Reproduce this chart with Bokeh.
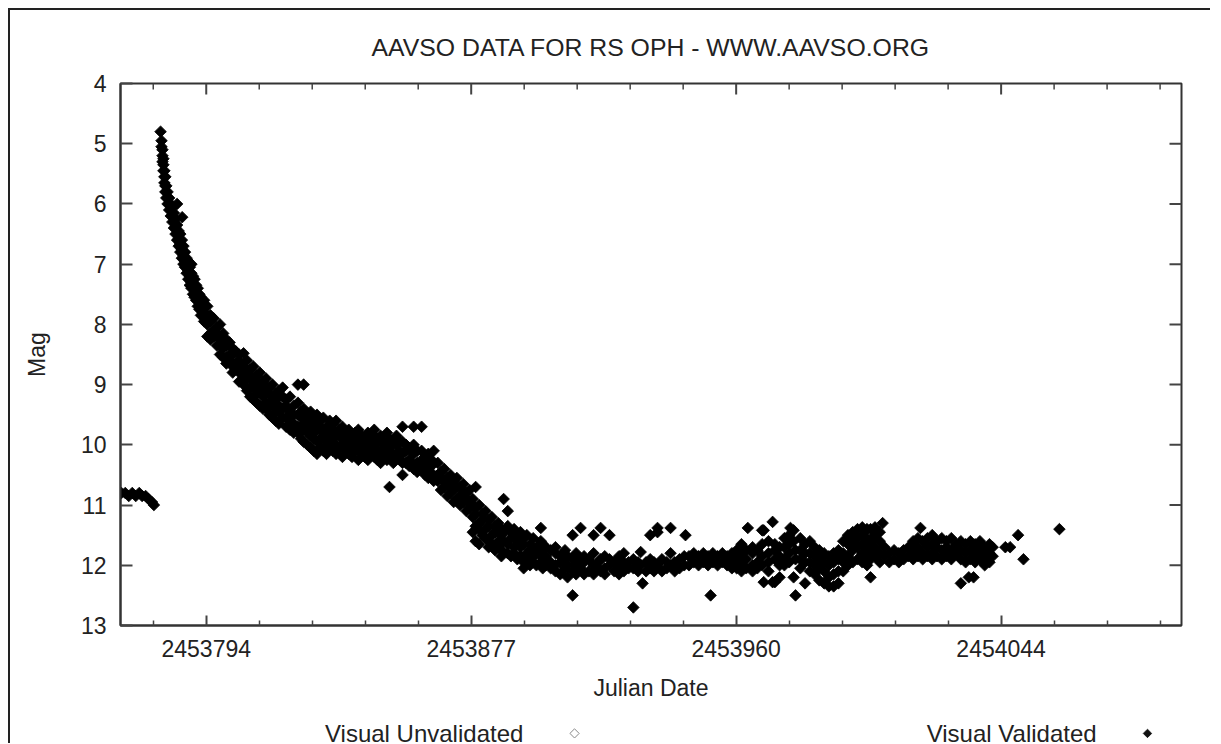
import math
from bokeh.plotting import figure
from bokeh.layouts import column
from bokeh.models import Range1d, FixedTicker, Label, ColumnDataSource
from bokeh.embed import file_html
from bokeh.resources import INLINE

# ---------------- data (JD = JD0 + day) ----------------
JD0 = 2453700.0

# pre-outburst quiescence: (day, [mags])
quiet_nights = [
    (67.0, [10.8]), (68.2, [10.8]), (69.3, [10.85]), (70.4, [10.8]),
    (71.5, [10.85]), (72.6, [10.8]), (73.5, [10.85]), (74.6, [10.85]),
    (75.5, [10.9]), (76.6, [10.95]), (77.2, [11.0]),
]

# fast early decline
early_decline_nights = [
    (79.3, [4.8]), (79.6, [4.95, 5.05]), (79.9, [5.1, 5.2, 5.3]),
    (80.2, [5.25, 5.35, 5.45]), (80.5, [5.45, 5.55, 5.65]), (80.8, [5.55, 5.7, 5.8]),
    (81.1, [5.7, 5.8, 5.9]), (81.5, [5.8, 5.9, 6.0]), (82.0, [5.9, 6.0, 6.1]),
    (82.5, [6.0, 6.1, 6.2]), (83.0, [6.05, 6.2, 6.3]), (83.5, [6.15, 6.3, 6.4]),
    (84.0, [6.25, 6.4, 6.5]), (84.5, [6.0, 6.35, 6.5, 6.6]), (85.0, [6.45, 6.6, 6.7]),
    (85.5, [6.5, 6.65, 6.8]), (86.0, [6.6, 6.75, 6.9]), (86.1, [6.22]),
    (86.5, [6.7, 6.85, 7.0]), (87.0, [6.8, 6.95, 7.05]), (87.5, [6.9, 7.05, 7.15]),
    (88.0, [6.95, 7.1, 7.25]), (88.5, [7.05, 7.2, 7.35]), (89.0, [7.0, 7.15, 7.3, 7.4]),
    (89.5, [7.2, 7.35, 7.5]), (90.0, [7.25, 7.4, 7.55]), (90.5, [7.35, 7.5, 7.6]),
    (91.0, [7.4, 7.55, 7.7]), (91.5, [7.5, 7.6, 7.75]), (92.0, [7.55, 7.7, 7.85]),
    (93.0, [7.6, 7.8, 7.95]), (94.0, [7.7, 7.9, 8.0, 8.2]), (95.0, [7.85, 7.95, 8.15, 8.25]),
    (96.0, [7.9, 8.1, 8.2]), (97.0, [8.05, 8.15, 8.35]), (98.0, [8.0, 8.25, 8.35, 8.5]),
    (99.0, [8.15, 8.3, 8.4, 8.55]), (100.0, [8.25, 8.35, 8.55, 8.65]), (101.0, [8.3, 8.5, 8.6]),
    (102.0, [8.4, 8.5, 8.7, 8.8]), (103.0, [8.45, 8.65, 8.75]), (104.0, [8.5, 8.6, 8.8, 8.95]),
    (105.4, [8.48, 8.7, 8.9, 9.0]), (106.5, [8.6, 8.8, 8.9, 9.1]), (107.5, [8.75, 8.85, 9.05, 9.2]),
    (108.5, [8.7, 8.95, 9.05, 9.25]), (109.5, [8.85, 8.95, 9.15, 9.3]), (110.5, [8.8, 9.0, 9.1, 9.35]),
    (111.5, [8.95, 9.1, 9.2, 9.4]), (112.5, [8.9, 9.05, 9.3, 9.4]), (113.5, [9.05, 9.15, 9.35, 9.5]),
    (114.5, [9.0, 9.25, 9.35, 9.55]), (115.5, [9.15, 9.25, 9.45, 9.6]), (116.5, [9.1, 9.35, 9.45, 9.65]),
    (117.7, [9.05, 9.2, 9.4, 9.55]), (118.8, [9.25, 9.35, 9.55, 9.7]), (120.0, [9.2, 9.45, 9.6, 9.75]),
    (121.2, [9.35, 9.5, 9.65, 9.8]),
]

# slow decline / shoulder near mag 10
shoulder_nights = [
    (122.5, [9.0, 9.3, 9.5, 9.7, 9.8]), (123.5, [9.45, 9.55, 9.75, 9.9]),
    (124.3, [9.0, 9.4, 9.65, 9.75, 9.95]), (125.5, [9.5, 9.6, 9.8, 10.0]),
    (126.5, [9.45, 9.7, 9.85, 10.05]), (127.5, [9.55, 9.65, 9.8, 9.9, 10.1]),
    (128.5, [9.5, 9.75, 9.95, 10.15]), (129.5, [9.6, 9.7, 9.9, 10.05]),
    (130.5, [9.55, 9.8, 9.9, 10.1]), (131.5, [9.7, 9.8, 10.0, 10.15]),
    (132.5, [9.6, 9.85, 9.95, 10.05]), (133.5, [9.65, 9.75, 9.9, 10.1]),
    (134.5, [9.6, 9.8, 10.0, 10.15]), (135.5, [9.75, 9.85, 10.05]),
    (136.5, [9.7, 9.9, 10.0, 10.2]), (137.5, [9.8, 9.95, 10.1]),
    (138.5, [9.75, 9.9, 10.05, 10.15]), (139.5, [9.85, 10.0, 10.2]),
    (140.5, [9.8, 9.95, 10.1]), (141.5, [9.75, 9.9, 10.0, 10.25]),
    (142.5, [9.85, 10.05, 10.15]), (143.5, [9.9, 10.0, 10.2]),
    (144.5, [9.8, 9.95, 10.1, 10.25]), (145.5, [9.9, 10.05, 10.15]),
    (146.5, [9.75, 9.85, 10.0, 10.2]), (147.5, [9.9, 10.1, 10.25]),
    (148.5, [9.85, 9.95, 10.15, 10.3]), (149.5, [9.95, 10.05, 10.2]),
    (150.5, [9.8, 10.0, 10.1, 10.25]), (151.3, [9.9, 10.05, 10.2, 10.7]),
    (152.5, [9.95, 10.15, 10.3]), (153.5, [9.85, 10.0, 10.2]),
    (154.5, [9.95, 10.1, 10.25]), (155.4, [9.7, 9.95, 10.15, 10.3, 10.5]),
    (156.5, [10.0, 10.1, 10.3]), (157.5, [10.05, 10.25, 10.35]),
    (158.9, [9.7, 10.0, 10.15, 10.4]), (160.0, [10.1, 10.3, 10.45]),
    (161.4, [9.7, 10.1, 10.25, 10.4]), (162.5, [10.2, 10.3, 10.5]),
    (163.5, [10.15, 10.4, 10.55]), (164.5, [10.25, 10.35, 10.5]),
    (165.2, [10.1, 10.3, 10.5, 10.6]),
]

# second decline to the plateau
late_decline_nights = [
    (166.5, [10.3, 10.5, 10.6]), (167.5, [10.45, 10.55, 10.75]), (168.5, [10.4, 10.6, 10.7]),
    (169.5, [10.55, 10.65, 10.85]), (170.5, [10.5, 10.7, 10.8]), (171.5, [10.6, 10.75, 10.95]),
    (172.5, [10.55, 10.7, 10.9]), (173.5, [10.7, 10.85, 11.0]), (174.5, [10.65, 10.8, 10.95]),
    (175.5, [10.8, 10.9, 11.1]), (176.5, [10.75, 10.95, 11.05]), (177.5, [10.9, 11.0, 11.2, 11.45]),
    (178.4, [10.7, 11.05, 11.15, 11.35, 11.6]), (179.5, [11.0, 11.3, 11.4, 11.65]),
    (180.5, [11.15, 11.25, 11.5]), (181.5, [11.1, 11.4, 11.55]), (182.5, [11.25, 11.35, 11.6, 11.7]),
    (183.5, [11.2, 11.5, 11.65]), (184.5, [11.35, 11.45, 11.75]), (185.5, [11.3, 11.6, 11.7]),
    (186.5, [11.4, 11.5, 11.75, 11.85]), (187.2, [10.9, 11.45, 11.6]), (188.5, [11.1, 11.35, 11.65, 11.8]),
    (189.5, [11.45, 11.55, 11.85]), (190.5, [11.4, 11.7, 11.8]), (191.5, [11.5, 11.6, 11.9]),
    (192.5, [11.45, 11.7, 11.85]), (193.5, [11.55, 11.65, 11.95, 12.05]), (194.5, [11.5, 11.8, 11.9]),
    (195.5, [11.65, 11.75, 12.0]), (196.5, [11.55, 11.85, 11.95]), (197.5, [11.7, 11.8, 12.0]),
    (198.9, [11.38, 11.6, 11.85, 11.95]), (199.5, [11.65, 11.75, 12.05]),
]

# post-outburst plateau near mag 12
plateau_nights = [
    (200.5, [11.7, 11.85, 12.0]), (202.0, [11.75, 11.95, 12.05]), (203.5, [11.7, 11.8, 12.0, 12.1]),
    (205.0, [11.85, 11.95, 12.15]), (206.5, [11.75, 11.9, 12.05]), (207.3, [11.85, 12.0, 12.2]),
    (208.9, [11.5, 11.9, 12.1, 12.5]), (210.0, [11.8, 12.0, 12.15]), (211.4, [11.38, 11.9, 12.05]),
    (212.5, [11.85, 11.95, 12.15]), (214.0, [11.9, 12.1]), (215.5, [11.5, 11.8, 12.0, 12.15]),
    (217.0, [11.95, 12.05]), (217.7, [11.38, 11.9, 12.1]), (219.0, [11.85, 12.05, 12.15]),
    (220.5, [11.5, 11.9, 12.0]), (222.0, [11.95, 12.1]), (223.5, [11.85, 12.0, 12.15]),
    (225.0, [11.8, 11.95, 12.1]), (226.5, [11.95, 12.05]), (228.0, [11.9, 12.05, 12.7]),
    (229.5, [11.95, 12.1]), (230.3, [11.78, 12.0]), (230.9, [12.3]),
    (232.0, [11.95, 12.1]), (233.3, [11.5, 11.9, 12.05]), (234.5, [11.95, 12.1]),
    (235.6, [11.38, 11.45, 12.0]), (237.0, [11.9, 12.1]), (238.5, [11.95, 12.05]),
    (239.7, [11.38, 11.8, 12.0]), (241.0, [11.95, 12.1]), (242.5, [11.9, 12.05]),
    (244.0, [11.85, 12.0]), (244.4, [11.5]), (245.5, [11.85, 12.0]),
    (247.0, [11.8, 11.95]), (248.5, [11.85, 12.0]), (250.0, [11.8, 11.95]),
    (251.5, [11.85, 12.0]), (252.3, [12.5]), (253.0, [11.8, 11.95]),
    (254.5, [11.85, 12.0]), (256.0, [11.8, 11.95]), (257.5, [11.85, 12.0]),
    (259.0, [11.8, 11.95, 12.05]), (260.5, [11.75, 11.9, 12.05]), (262.0, [11.65, 11.85, 12.0, 12.1]),
    (263.5, [11.75, 11.9, 12.05]), (264.0, [11.38]), (265.5, [11.7, 11.8, 12.0, 12.1]),
    (267.0, [11.75, 11.95, 12.05]), (268.5, [11.42, 11.65, 11.85, 12.0]), (269.0, [11.42, 12.28]),
    (270.5, [11.6, 11.8, 11.95, 12.1]), (271.8, [11.28, 12.28]), (272.5, [11.65, 11.75, 11.9, 12.28]),
    (274.0, [11.7, 11.85, 12.0, 12.2]), (275.5, [11.55, 11.7, 11.9, 12.0]), (277.0, [11.5, 11.65, 11.8, 11.95]),
    (277.4, [11.38]), (278.4, [11.42, 11.6, 12.2]), (279.0, [11.75, 11.9, 12.5]),
    (280.5, [11.55, 11.75, 11.9, 12.05]), (282.0, [11.65, 11.8, 11.95, 12.3]), (283.5, [11.6, 11.8, 11.95, 12.1]),
    (285.0, [11.7, 11.85, 12.0, 12.15]), (286.5, [11.75, 11.9, 12.05, 12.25]), (288.0, [11.8, 11.95, 12.1, 12.3]),
    (289.5, [11.85, 12.0, 12.2, 12.35]), (291.0, [11.8, 11.95, 12.15, 12.35]), (292.5, [11.75, 11.9, 12.1, 12.3]),
    (294.0, [11.6, 11.8, 11.95, 12.1]), (295.5, [11.5, 11.65, 11.85, 12.0]), (297.0, [11.45, 11.6, 11.75, 11.95]),
    (298.5, [11.4, 11.55, 11.7, 11.9]), (300.0, [11.37, 11.5, 11.65, 11.8, 11.95]), (301.5, [11.4, 11.55, 11.7, 11.85, 12.0]),
    (302.6, [11.4, 11.6, 11.75, 11.9, 12.2]), (304.0, [11.37, 11.5, 11.7, 11.85]), (305.5, [11.45, 11.6, 11.8, 11.95]),
    (306.4, [11.3]), (307.0, [11.7, 11.85]), (308.5, [11.8, 11.95]),
    (310.0, [11.75, 11.9]), (311.5, [11.8, 11.95]), (313.0, [11.75, 11.9]),
    (314.5, [11.7, 11.85]), (316.0, [11.6, 11.75, 11.9]), (317.5, [11.55, 11.7, 11.85]),
    (318.3, [11.38]), (319.0, [11.6, 11.8, 11.9]), (320.5, [11.55, 11.7, 11.85]),
    (322.0, [11.5, 11.65, 11.8, 11.9]), (323.5, [11.6, 11.7, 11.85]), (325.0, [11.55, 11.75, 11.9]),
    (326.5, [11.6, 11.7, 11.85]), (328.0, [11.55, 11.75, 11.9]), (329.5, [11.65, 11.8]),
    (331.0, [11.6, 11.75, 11.9, 12.3]), (332.5, [11.65, 11.8, 11.95]), (333.5, [12.2]),
    (334.0, [11.6, 11.75, 11.9]), (335.0, [12.2]), (335.5, [11.65, 11.8, 11.95]),
    (337.0, [11.6, 11.75, 11.9]), (338.5, [11.7, 11.85, 12.0]), (340.0, [11.65, 11.8, 11.95]),
    (341.0, [11.7, 11.85]),
]

# sparse late observations
tail_nights = [
    (345.0, [11.7]), (346.5, [11.7]), (349.0, [11.5]), (350.7, [11.9]), (362.0, [11.4]),
]

# axes
x_day_range = (66.7, 400.4)
y_mag_range = (13, 4)
x_tick_jd = [2453793.667, 2453877.0, 2453960.333, 2454043.667]
x_tick_labels = ["2453794", "2453877", "2453960", "2454044"]
y_ticks = [4, 5, 6, 7, 8, 9, 10, 11, 12, 13]

title_text = "AAVSO DATA FOR RS OPH - WWW.AAVSO.ORG"
x_label = "Julian Date"
y_label = "Mag"
legend_labels = ["Visual Unvalidated", "Visual Validated"]
legend_text_day = [193.4, 373.7]     # right end of each legend text
legend_symbol_day = [209.5, 389.7]   # legend symbol positions

# ---------------- build ----------------
jd, mag = [], []
for nights in (quiet_nights, early_decline_nights, shoulder_nights,
               late_decline_nights, plateau_nights, tail_nights):
    for d, ms in nights:
        for m in ms:
            jd.append(JD0 + d)
            mag.append(m)

FONT = "Liberation Sans"
TXT = "#222222"
AX = "#333333"
TICK = "#444444"

W, H = 1200, 705
FRAME_L, FRAME_R, FRAME_T, FRAME_B = 110, 1171, 73, 615  # canvas pixels
LEG_H = 28

x_start, x_end = JD0 + x_day_range[0], JD0 + x_day_range[1]
xr = Range1d(x_start, x_end)
p = figure(width=W, height=H, output_backend="svg", toolbar_location=None,
           x_range=xr, y_range=Range1d(*y_mag_range),
           min_border_left=FRAME_L, min_border_right=W - FRAME_R,
           min_border_top=FRAME_T, min_border_bottom=H - FRAME_B,
           title=title_text, x_axis_label=x_label, y_axis_label=y_label)
p.background_fill_color = "white"
p.border_fill_color = "white"
p.outline_line_color = AX
p.outline_line_width = 2
p.xgrid.visible = False
p.ygrid.visible = False

p.title.text_font = FONT
p.title.text_font_size = "24.8px"
p.title.text_font_style = "normal"
p.title.text_color = TXT
p.title.align = "center"
p.title.vertical_align = "middle"
p.title.standoff = 44

step = (x_tick_jd[1] - x_tick_jd[0]) / 5.0
x_minor = [x_tick_jd[0] + k * step for k in range(-2, 21) if k % 5 != 0]
x_minor = [t for t in x_minor if x_start < t < x_end]


def style_axis(ax, major_in, minor_in):
    ax.axis_line_color = AX
    ax.axis_line_width = 2
    ax.major_tick_line_color = TICK
    ax.major_tick_line_width = 2
    ax.minor_tick_line_color = TICK
    ax.minor_tick_line_width = 1.5
    ax.major_tick_out = 0
    ax.minor_tick_out = 0
    ax.major_tick_in = major_in
    ax.minor_tick_in = minor_in
    ax.major_label_text_font = FONT
    ax.major_label_text_color = TXT
    ax.major_label_text_font_size = "23px"
    ax.axis_label_text_font = FONT
    ax.axis_label_text_font_size = "23px"
    ax.axis_label_text_font_style = "normal"
    ax.axis_label_text_color = TXT


xb = p.xaxis[0]
xb.ticker = FixedTicker(ticks=x_tick_jd, minor_ticks=x_minor)
xb.major_label_overrides = {t: l for t, l in zip(x_tick_jd, x_tick_labels)}
style_axis(xb, 10, 5)
xb.major_label_standoff = 14
xb.axis_label_standoff = 15

yl = p.yaxis[0]
yl.ticker = FixedTicker(ticks=y_ticks, minor_ticks=[])
style_axis(yl, 12, 0)
yl.major_label_standoff = 14
yl.axis_label_standoff = 28

# mirrored ticks on the top and right edges (gnuplot style), drawn inside the frame
px_per_day = (FRAME_R - FRAME_L) / (x_end - x_start)
px_per_mag = (FRAME_B - FRAME_T) / (y_mag_range[0] - y_mag_range[1])
top_x = x_tick_jd + x_minor
top_len = [11 / px_per_mag] * len(x_tick_jd) + [6 / px_per_mag] * len(x_minor)
p.segment(x0=top_x, x1=top_x, y0=[y_mag_range[1]] * len(top_x),
          y1=[y_mag_range[1] + L for L in top_len],
          line_color=TICK, line_width=[2] * len(x_tick_jd) + [1.5] * len(x_minor))
r_ticks = y_ticks[1:-1]
p.segment(x0=[x_end] * len(r_ticks), x1=[x_end - 12 / px_per_day] * len(r_ticks),
          y0=r_ticks, y1=r_ticks, line_color=TICK, line_width=2)

src = ColumnDataSource(dict(jd=jd, mag=mag))
p.scatter("jd", "mag", source=src, marker="square", angle=math.pi / 4, size=8.2,
          fill_color="black", line_color="black", line_width=0.8)

# ---------------- legend strip (gnuplot style: text, then symbol) ----------------
leg = figure(width=W, height=LEG_H, output_backend="svg", toolbar_location=None,
             x_range=xr, y_range=Range1d(0, 1),
             min_border_left=FRAME_L, min_border_right=W - FRAME_R,
             min_border_top=0, min_border_bottom=0,
             x_axis_location=None, y_axis_location=None)
leg.outline_line_color = None
leg.background_fill_color = "white"
leg.border_fill_color = "white"
leg.grid.visible = False
leg_y = 0.36
for txt, d in zip(legend_labels, legend_text_day):
    leg.add_layout(Label(x=JD0 + d, y=leg_y, text=txt, text_align="right",
                         text_baseline="middle", text_font=FONT, text_font_size="24px",
                         text_color=TXT))
leg.scatter(x=[JD0 + legend_symbol_day[0]], y=[leg_y], marker="square", angle=math.pi / 4,
            size=6.5, fill_color=None, line_color="#888888", line_width=1)
leg.scatter(x=[JD0 + legend_symbol_day[1]], y=[leg_y], marker="square", angle=math.pi / 4,
            size=6.0, fill_color="#111111", line_color="#111111", line_width=0.8)

layout = column(p, leg, spacing=0)
layout.styles = {"margin-left": "8px", "margin-top": "8px",
                 "border-left": "2px solid #222", "border-top": "2px solid #222"}

open("out.html", "w").write(file_html(layout, INLINE))
